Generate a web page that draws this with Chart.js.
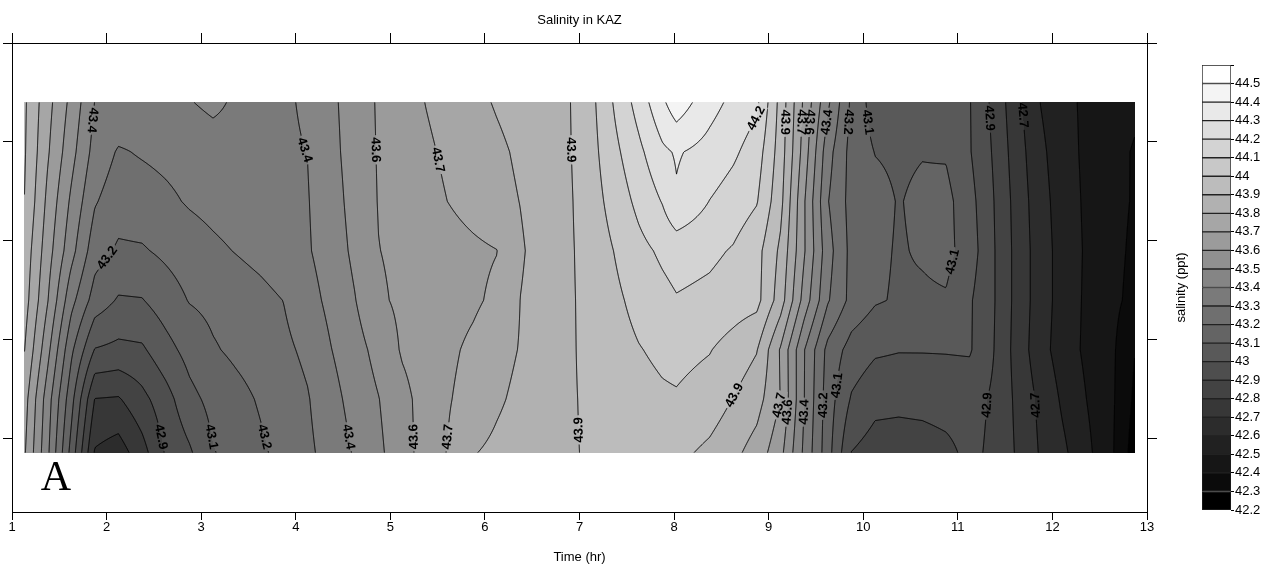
<!DOCTYPE html>
<html>
<head>
<meta charset="utf-8">
<title>Salinity in KAZ</title>
<script src="https://cdn.jsdelivr.net/npm/chart.js@4.4.1/dist/chart.umd.min.js"></script>
<style>
    body { margin: 0; background: #fff; }
    #wrap { position: relative; width: 1273px; height: 569px; }
    #main { position: absolute; left: 0; top: 0; }
    #bar { position: absolute; left: 1160px; top: 0; }
</style>
</head>
<body>
<div id="wrap">
    <canvas id="main" width="1273" height="569"></canvas>
    <canvas id="bar" width="113" height="569"></canvas>
</div>
<script>
// Sampling grid: time (hr) columns and depth rows
const times = [1.125, 1.375, 1.625, 1.875, 2.125, 2.375, 2.625, 2.875, 3.125, 3.375, 3.625, 3.875,
    4.125, 4.375, 4.625, 4.875, 5.125, 5.375, 5.625, 5.875, 6.125, 6.375, 6.625, 6.875,
    7.125, 7.375, 7.625, 7.875, 8.025, 8.375, 8.625, 8.875, 9.125, 9.375, 9.625, 9.875,
    10.125, 10.375, 10.625, 10.875, 11.125, 11.375, 11.625, 11.875, 12.125, 12.375, 12.625, 12.875];
const depths = [0.6, 1.1, 1.6, 2.1, 2.6, 3.1, 3.6, 4.14];

// Salinity (ppt), one row per depth
const salinity = [
    [43.92, 43.735, 43.573, 43.398, 43.38, 43.365, 43.37, 43.395, 43.42, 43.385, 43.375, 43.39, 43.41, 43.48, 43.547, 43.61, 43.656, 43.702, 43.739, 43.775, 43.808, 43.836, 43.863, 43.89, 43.974, 44.113, 44.239, 44.38, 44.46, 44.336, 44.276, 44.22, 43.965, 43.68, 43.42, 43.18, 43.05, 43.06, 43.05, 43.03, 43.005, 42.877, 42.729, 42.598, 42.524, 42.48, 42.45, 42.42],
    [43.915, 43.713, 43.536, 43.363, 43.29, 43.309, 43.325, 43.34, 43.357, 43.368, 43.379, 43.389, 43.401, 43.472, 43.543, 43.607, 43.645, 43.684, 43.719, 43.75, 43.782, 43.815, 43.852, 43.888, 43.966, 44.077, 44.176, 44.28, 44.31, 44.265, 44.218, 44.15, 43.953, 43.655, 43.339, 43.165, 43.097, 43.084, 43.095, 43.09, 43.007, 42.891, 42.747, 42.622, 42.536, 42.477, 42.435, 42.39],
    [43.905, 43.678, 43.483, 43.309, 43.245, 43.255, 43.28, 43.31, 43.33, 43.348, 43.362, 43.38, 43.395, 43.46, 43.534, 43.604, 43.638, 43.67, 43.703, 43.736, 43.769, 43.802, 43.843, 43.884, 43.955, 44.041, 44.125, 44.205, 44.288, 44.198, 44.153, 44.106, 43.93, 43.61, 43.305, 43.165, 43.13, 43.095, 43.12, 43.13, 43.035, 42.904, 42.762, 42.637, 42.547, 42.48, 42.432, 42.39],
    [43.87, 43.646, 43.436, 43.242, 43.185, 43.19, 43.22, 43.25, 43.28, 43.305, 43.33, 43.36, 43.39, 43.45, 43.52, 43.598, 43.62, 43.64, 43.66, 43.68, 43.698, 43.79, 43.838, 43.884, 43.94, 44.004, 44.07, 44.118, 44.141, 44.12, 44.092, 44.034, 43.88, 43.61, 43.34, 43.17, 43.12, 43.092, 43.11, 43.13, 43.05, 42.91, 42.768, 42.647, 42.553, 42.484, 42.43, 42.38],
    [43.85, 43.607, 43.333, 43.156, 43.09, 43.095, 43.15, 43.205, 43.225, 43.245, 43.27, 43.302, 43.36, 43.428, 43.496, 43.585, 43.618, 43.64, 43.662, 43.684, 43.72, 43.801, 43.84, 43.885, 43.93, 43.98, 44.03, 44.07, 44.093, 44.075, 44.05, 44.03, 43.85, 43.56, 43.31, 43.17, 43.11, 43.09, 43.085, 43.09, 43.012, 42.91, 42.768, 42.647, 42.553, 42.48, 42.425, 42.37],
    [43.81, 43.532, 43.222, 42.995, 42.975, 42.985, 43.065, 43.135, 43.19, 43.22, 43.245, 43.28, 43.32, 43.398, 43.462, 43.532, 43.61, 43.645, 43.683, 43.72, 43.765, 43.805, 43.846, 43.886, 43.925, 43.96, 43.995, 44.02, 44.03, 44.005, 43.96, 43.905, 43.69, 43.405, 43.17, 43.06, 43.015, 43.005, 43.005, 43.006, 43.01, 42.904, 42.762, 42.637, 42.547, 42.477, 42.42, 42.3],
    [43.75, 43.45, 43.137, 42.797, 42.79, 42.87, 42.96, 43.07, 43.13, 43.17, 43.21, 43.25, 43.293, 43.366, 43.437, 43.497, 43.572, 43.637, 43.695, 43.74, 43.786, 43.822, 43.855, 43.889, 43.915, 43.94, 43.965, 43.985, 43.99, 43.955, 43.897, 43.84, 43.698, 43.402, 43.15, 42.99, 42.93, 42.925, 42.93, 42.94, 42.94, 42.886, 42.78, 42.676, 42.578, 42.495, 42.418, 42.28],
    [43.72, 43.423, 43.067, 42.69, 42.65, 42.76, 42.91, 42.985, 43.094, 43.14, 43.184, 43.23, 43.28, 43.34, 43.41, 43.48, 43.56, 43.64, 43.71, 43.795, 43.82, 43.845, 43.868, 43.89, 43.91, 43.93, 43.95, 43.935, 43.925, 43.878, 43.826, 43.757, 43.63, 43.38, 43.14, 42.898, 42.855, 42.85, 42.855, 42.875, 42.925, 42.88, 42.79, 42.69, 42.615, 42.52, 42.415, 42.25]
];

// Contour levels and colour bar band edges
const contourLevels = [42.3, 42.4, 42.5, 42.6, 42.7, 42.8, 42.9, 43.0, 43.1, 43.2, 43.3, 43.4,
    43.5, 43.6, 43.7, 43.8, 43.9, 44.0, 44.1, 44.2, 44.3, 44.4, 44.5];
const bandLows = [42.2, 42.3, 42.4, 42.5, 42.6, 42.7, 42.8, 42.9, 43.0, 43.1, 43.2, 43.3,
    43.4, 43.5, 43.6, 43.7, 43.8, 43.9, 44.0, 44.1, 44.2, 44.3, 44.4, 44.5];
const colorbarTicks = bandLows.concat([44.6]);
const timeTicks = [1, 2, 3, 4, 5, 6, 7, 8, 9, 10, 11, 12, 13];
const depthTicks = [0, 1, 2, 3, 4];

// Contour labels: [level, time, depth]
const labelSpots = [
    [43.4, 1.87, 0.78], [43.4, 4.09, 1.08], [43.6, 4.81, 1.08], [43.7, 5.52, 1.18], [43.9, 6.97, 1.08],
    [44.2, 8.83, 0.76], [43.9, 9.22, 0.80], [43.7, 9.36, 0.80], [43.6, 9.52, 0.80], [43.4, 9.67, 0.80],
    [43.2, 9.83, 0.80], [43.1, 9.98, 0.80], [42.9, 11.34, 0.76], [42.7, 11.68, 0.73],
    [43.2, 1.95, 2.17], [43.1, 10.76, 2.21],
    [42.9, 2.56, 3.98], [43.1, 2.87, 3.98], [43.2, 3.67, 3.98], [43.4, 4.53, 3.98], [43.6, 5.20, 3.98],
    [43.7, 5.59, 3.98], [43.9, 6.95, 3.91], [43.9, 8.75, 3.56], [43.7, 9.12, 3.66], [43.6, 9.22, 3.73],
    [43.4, 9.41, 3.73], [43.2, 9.65, 3.66], [43.1, 9.89, 3.46], [42.9, 11.18, 3.66], [42.7, 11.68, 3.66]
];

const FONT = '"Liberation Sans", Arial, sans-serif';
Chart.defaults.font.family = FONT;
Chart.defaults.font.size = 13;
Chart.defaults.color = '#000';

function bandGray(i) {
    return Math.round(i * 255 / (bandLows.length - 1));
}

function bandIndex(v) {
    let i = 0;
    while (i < contourLevels.length && v >= contourLevels[i]) i++;
    return i;
}

function locate(arr, v) {
    let i = 0;
    while (i < arr.length - 2 && v > arr[i + 1]) i++;
    let f = (v - arr[i]) / (arr[i + 1] - arr[i]);
    f = Math.max(0, Math.min(1, f));
    return [i, f];
}

function salinityAt(t, d) {
    const [i, fx] = locate(times, t);
    const [j, fy] = locate(depths, d);
    const a = salinity[j][i], b = salinity[j][i + 1];
    const c = salinity[j + 1][i], e = salinity[j + 1][i + 1];
    return (a * (1 - fx) + b * fx) * (1 - fy) + (c * (1 - fx) + e * fx) * fy;
}

function contourSegments(F, nx, ny, ox, oy) {
    const segs = [];
    for (let r = 0; r < ny - 1; r++) {
        for (let c = 0; c < nx - 1; c++) {
            const a = F[r * nx + c], b = F[r * nx + c + 1];
            const cc = F[(r + 1) * nx + c], d = F[(r + 1) * nx + c + 1];
            const lo = Math.min(a, b, cc, d), hi = Math.max(a, b, cc, d);
            for (const L of contourLevels) {
                if (L <= lo || L > hi) continue;
                const x = ox + c, y = oy + r;
                const pts = [];
                if ((a >= L) !== (b >= L)) pts.push([x + (L - a) / (b - a), y]);
                if ((b >= L) !== (d >= L)) pts.push([x + 1, y + (L - b) / (d - b)]);
                if ((cc >= L) !== (d >= L)) pts.push([x + (L - cc) / (d - cc), y + 1]);
                if ((a >= L) !== (cc >= L)) pts.push([x, y + (L - a) / (cc - a)]);
                if (pts.length === 2) {
                    segs.push([pts[0], pts[1]]);
                } else if (pts.length === 4) {
                    const mid = (a + b + cc + d) / 4;
                    if ((a >= L) !== (mid >= L)) {
                        segs.push([pts[0], pts[3]], [pts[1], pts[2]]);
                    } else {
                        segs.push([pts[0], pts[1]], [pts[2], pts[3]]);
                    }
                }
            }
        }
    }
    return segs;
}

const LABEL_FONT = 'bold 13px ' + FONT;

const contourPlugin = {
    id: 'contour',
    beforeDatasetsDraw(chart) {
        const ctx = chart.ctx;
        const xs = chart.scales.x, ys = chart.scales.y;
        const x0 = Math.round(xs.getPixelForValue(times[0]));
        const x1 = Math.round(xs.getPixelForValue(times[times.length - 1]));
        const y0 = Math.round(ys.getPixelForValue(depths[0]));
        const y1 = Math.round(ys.getPixelForValue(depths[depths.length - 1]));
        const W = x1 - x0, H = y1 - y0;
        const midY = (y0 + y1) / 2;

        // value at every pixel centre
        const F = new Float64Array(W * H);
        const colT = [], rowD = [];
        for (let c = 0; c < W; c++) colT.push(xs.getValueForPixel(x0 + c + 0.5));
        for (let r = 0; r < H; r++) rowD.push(ys.getValueForPixel(y0 + r + 0.5));
        for (let r = 0; r < H; r++) {
            for (let c = 0; c < W; c++) F[r * W + c] = salinityAt(colT[c], rowD[r]);
        }

        // filled bands
        const img = ctx.createImageData(W, H);
        for (let k = 0; k < W * H; k++) {
            const g = bandGray(bandIndex(F[k]));
            img.data[k * 4] = g;
            img.data[k * 4 + 1] = g;
            img.data[k * 4 + 2] = g;
            img.data[k * 4 + 3] = 255;
        }
        ctx.putImageData(img, x0, y0);

        // labels snapped to their contour
        const valueAtPx = (px, py) => salinityAt(xs.getValueForPixel(px), ys.getValueForPixel(py));
        ctx.save();
        ctx.font = LABEL_FONT;
        const labels = [];
        labelSpots.forEach(([L, t, d]) => {
            const sx = xs.getPixelForValue(t), sy = ys.getPixelForValue(d);
            let best = null;
            for (let s = 0; s <= 30 && !best; s += 0.5) {
                for (const dir of [1, -1]) {
                    const pa = sx + dir * s, pb = sx + dir * (s + 0.5);
                    const va = valueAtPx(pa, sy) - L, vb = valueAtPx(pb, sy) - L;
                    if (va * vb <= 0 && va !== vb) {
                        best = [pa + (pb - pa) * va / (va - vb), sy];
                        break;
                    }
                    const qa = sy + dir * s, qb = sy + dir * (s + 0.5);
                    const wa = valueAtPx(sx, qa) - L, wb = valueAtPx(sx, qb) - L;
                    if (wa * wb <= 0 && wa !== wb) {
                        best = [sx, qa + (qb - qa) * wa / (wa - wb)];
                        break;
                    }
                }
            }
            if (!best) return;
            const [px, py] = best;
            const gx = valueAtPx(px + 1, py) - valueAtPx(px - 1, py);
            const gy = valueAtPx(px, py + 1) - valueAtPx(px, py - 1);
            let ang = Math.atan2(gx, -gy);
            if (ang > Math.PI / 2) ang -= Math.PI;
            if (ang <= -Math.PI / 2) ang += Math.PI;
            // near-vertical labels read downward in the upper half, upward in the lower half
            const steep = 84 * Math.PI / 180;
            if (py < midY && ang < -steep) ang += Math.PI;
            if (py >= midY && ang > steep) ang -= Math.PI;
            const text = String(+L.toFixed(1));
            labels.push({px, py, ang, text, w: ctx.measureText(text).width});
        });
        ctx.restore();

        // contour lines with gaps under labels
        const segs = contourSegments(F, W, H, x0 + 0.5, y0 + 0.5);
        ctx.save();
        ctx.beginPath();
        ctx.rect(x0 - 2, y0 - 2, W + 4, H + 4);
        labels.forEach(lb => {
            const hw = lb.w / 2 + 2, hh = 6;
            const ca = Math.cos(lb.ang), sa = Math.sin(lb.ang);
            const corners = [[-hw, -hh], [hw, -hh], [hw, hh], [-hw, hh]];
            corners.forEach(([u, v], n) => {
                const X = lb.px + u * ca - v * sa, Y = lb.py + u * sa + v * ca;
                if (n === 0) ctx.moveTo(X, Y); else ctx.lineTo(X, Y);
            });
            ctx.closePath();
        });
        ctx.clip('evenodd');
        ctx.beginPath();
        segs.forEach(([p, q]) => {
            ctx.moveTo(p[0], p[1]);
            ctx.lineTo(q[0], q[1]);
        });
        ctx.strokeStyle = '#000';
        ctx.lineWidth = 1;
        ctx.stroke();
        ctx.restore();

        ctx.save();
        ctx.font = LABEL_FONT;
        ctx.fillStyle = '#000';
        ctx.textAlign = 'center';
        ctx.textBaseline = 'middle';
        labels.forEach(lb => {
            ctx.save();
            ctx.translate(lb.px, lb.py);
            ctx.rotate(lb.ang);
            ctx.fillText(lb.text, 0, 0.5);
            ctx.restore();
        });
        ctx.restore();
    },
    afterDraw(chart) {
        const ctx = chart.ctx;
        const area = chart.chartArea;
        ctx.save();
        ctx.font = '42px "Liberation Serif", "Times New Roman", serif';
        ctx.fillStyle = '#000';
        ctx.textAlign = 'center';
        ctx.textBaseline = 'alphabetic';
        ctx.fillText('A', area.left + 44, area.bottom - 22);
        ctx.restore();
    }
};

function axisGrid(len) {
    return {drawOnChartArea: false, drawTicks: true, tickLength: len, color: '#000', lineWidth: 1};
}

new Chart(document.getElementById('main'), {
    type: 'scatter',
    data: {datasets: [{data: []}]},
    options: {
        responsive: false,
        devicePixelRatio: 1,
        animation: false,
        layout: {padding: 0},
        plugins: {legend: {display: false}, tooltip: {enabled: false}},
        scales: {
            x: {
                type: 'linear', position: 'bottom', min: 1, max: 13,
                afterBuildTicks: s => { s.ticks = timeTicks.map(v => ({value: v})); },
                ticks: {padding: 0, maxRotation: 0, autoSkip: false, font: {size: 13}},
                grid: axisGrid(8),
                border: {color: '#000'},
                title: {display: true, text: 'Time (hr)', font: {size: 13}, padding: {top: 4, bottom: 4}},
                afterFit: s => { s.height = 57; }
            },
            x2: {
                type: 'linear', position: 'top', min: 1, max: 13,
                afterBuildTicks: s => { s.ticks = timeTicks.map(v => ({value: v})); },
                ticks: {display: false},
                grid: axisGrid(10),
                border: {color: '#000'},
                title: {display: true, text: 'Salinity in KAZ', font: {size: 13}, padding: {top: 13, bottom: 0}},
                afterFit: s => { s.height = 43; }
            },
            y: {
                type: 'linear', position: 'left', reverse: true, min: 0, max: 4.74,
                afterBuildTicks: s => { s.ticks = depthTicks.map(v => ({value: v})); },
                ticks: {display: false},
                grid: axisGrid(9),
                border: {color: '#000'},
                afterFit: s => { s.width = 12; }
            },
            y2: {
                type: 'linear', position: 'right', reverse: true, min: 0, max: 4.74,
                afterBuildTicks: s => { s.ticks = depthTicks.map(v => ({value: v})); },
                ticks: {display: false},
                grid: axisGrid(10),
                border: {color: '#000'},
                afterFit: s => { s.width = 126; }
            }
        }
    },
    plugins: [contourPlugin]
});

// colour bar
new Chart(document.getElementById('bar'), {
    type: 'bar',
    data: {
        labels: [''],
        datasets: bandLows.map((lo, i) => ({
            data: [[lo, +(lo + 0.1).toFixed(1)]],
            backgroundColor: 'rgb(' + bandGray(i) + ',' + bandGray(i) + ',' + bandGray(i) + ')',
            borderColor: '#222',
            borderWidth: 1,
            borderSkipped: false,
            barPercentage: 1,
            categoryPercentage: 1,
            grouped: false
        }))
    },
    options: {
        responsive: false,
        devicePixelRatio: 1,
        animation: false,
        layout: {padding: {top: 65, bottom: 59}},
        plugins: {legend: {display: false}, tooltip: {enabled: false}},
        scales: {
            x: {display: false},
            y: {
                position: 'right', min: 42.2, max: 44.6,
                afterBuildTicks: s => { s.ticks = colorbarTicks.map(v => ({value: v})); },
                ticks: {
                    autoSkip: false, padding: 1, font: {size: 13},
                    callback: v => (v > 44.55 ? '' : String(+v.toFixed(1)))
                },
                grid: {drawOnChartArea: false, drawTicks: true, tickLength: 3, color: '#000'},
                border: {display: false},
                afterFit: s => { s.width = 42; }
            },
            yl: {
                position: 'left', min: 0, max: 1,
                ticks: {display: false},
                grid: {display: false},
                border: {display: false},
                title: {display: true, text: 'salinity (ppt)', font: {size: 13}, padding: {top: 14, bottom: 0}},
                afterFit: s => { s.width = 42; }
            }
        }
    }
});
</script>
</body>
</html>
